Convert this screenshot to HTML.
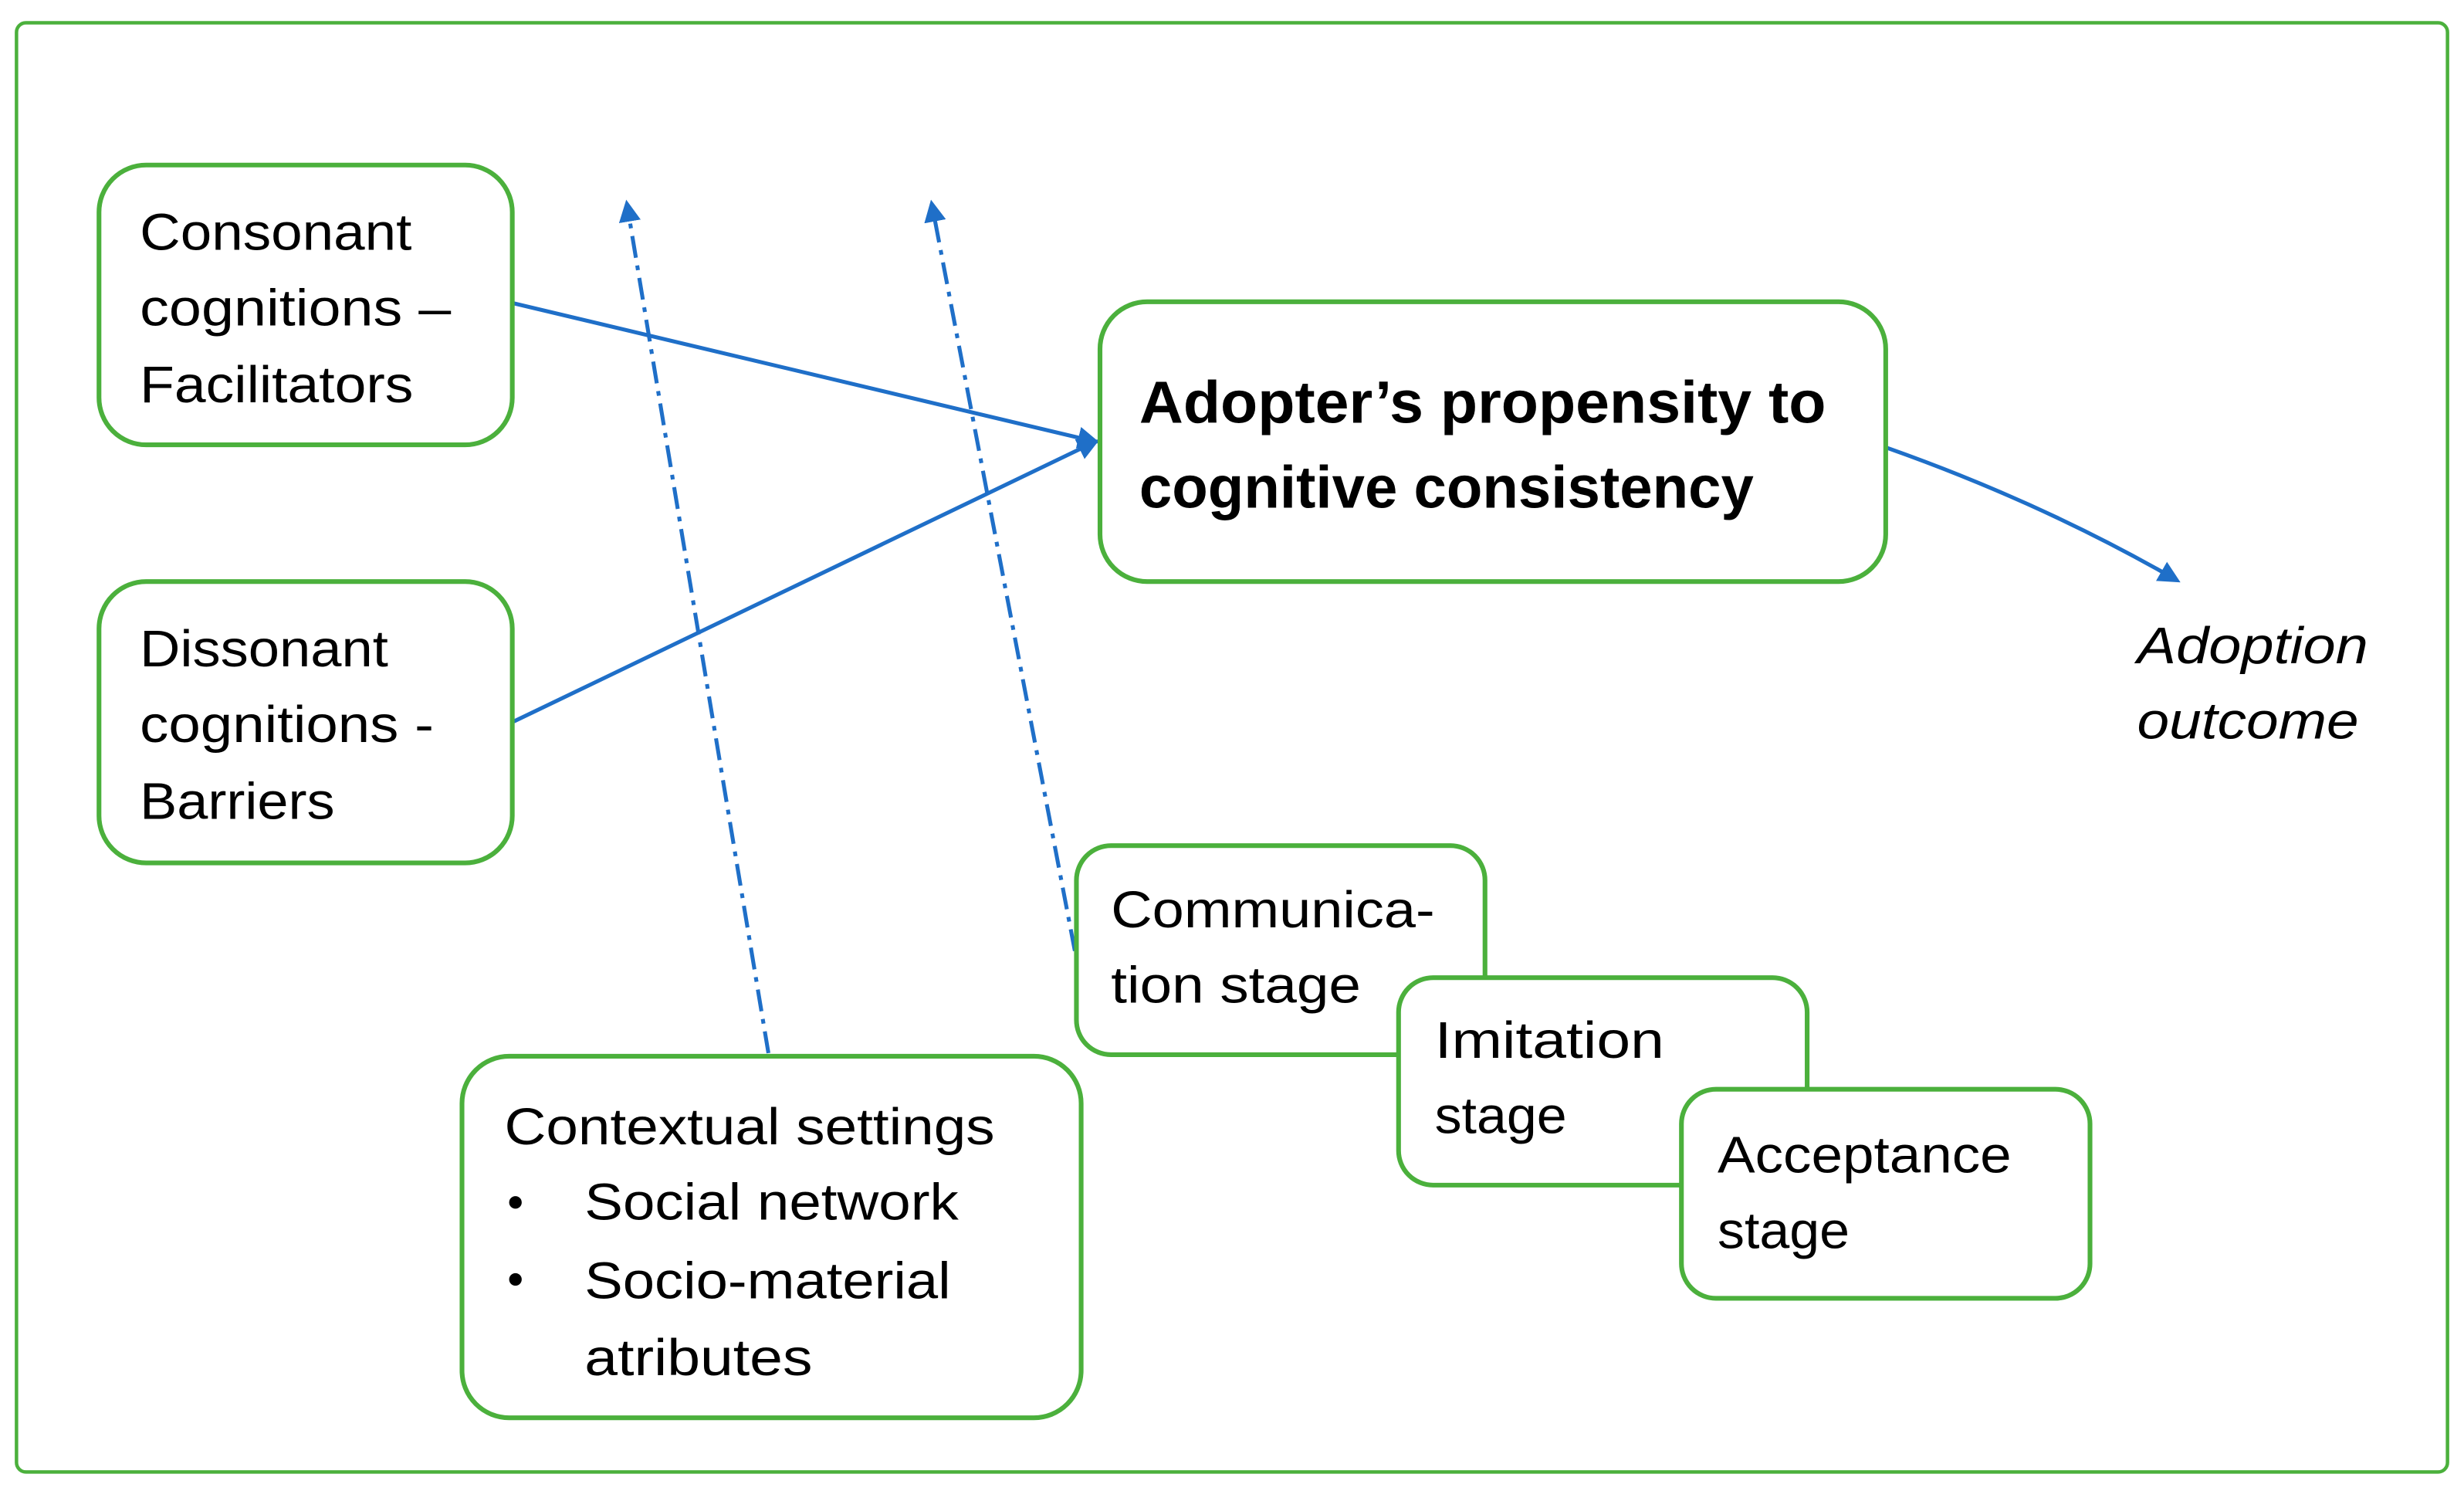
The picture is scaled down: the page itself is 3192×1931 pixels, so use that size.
<!DOCTYPE html>
<html><head><meta charset="utf-8"><style>
html,body{margin:0;padding:0;background:#fff;}
svg{display:block;}
text{font-family:"Liberation Sans",sans-serif;fill:#000;}
</style></head><body>
<svg width="3192" height="1931" viewBox="0 0 1568 948.6" preserveAspectRatio="none" xmlns="http://www.w3.org/2000/svg">
<defs>
<marker id="ah" markerWidth="10" markerHeight="10" refX="8" refY="5" orient="auto" markerUnits="userSpaceOnUse">
<path d="M0,0 L10,5 L0,10 Z" fill="#1f6fc8"/></marker>
<marker id="ah2" markerWidth="14" markerHeight="14" refX="11" refY="7" orient="auto" markerUnits="userSpaceOnUse">
<path d="M0,0 L14,7 L0,14 Z" fill="#1f6fc8"/></marker>
</defs>
<g fill="none" stroke="#4bb03c">
<rect x="10.5" y="14.5" width="1547" height="922" rx="6" stroke-width="2.2"/>
</g>
<!-- connectors -->
<g stroke="#1f6fc8" stroke-width="2.5" fill="none">
<line x1="327" y1="193" x2="697" y2="281" marker-end="url(#ah2)"/>
<line x1="327" y1="459" x2="697" y2="281" marker-end="url(#ah2)"/>
<line x1="489" y1="670" x2="399" y2="130" stroke-dasharray="14,5,3,5" marker-end="url(#ah2)"/>
<line x1="684" y1="605" x2="593" y2="130" stroke-dasharray="14,5,3,5" marker-end="url(#ah2)"/>
<path d="M1201,285 Q1300,320 1385,369" marker-end="url(#ah2)"/>
</g>
<g fill="#fff" stroke="#4bb03c" stroke-width="3">
<rect x="63" y="105" width="263" height="178" rx="30"/>
<rect x="63" y="370" width="263" height="179" rx="30"/>
<rect x="700" y="192" width="500" height="178" rx="30"/>
<rect x="294" y="672" width="394" height="230" rx="30"/>
<rect x="685" y="538" width="260" height="133" rx="22"/>
<rect x="890" y="622" width="260" height="132" rx="22"/>
<rect x="1070" y="693" width="260" height="133" rx="22"/>
</g>
<g font-size="33">
<text x="89" y="159" textLength="173" lengthAdjust="spacingAndGlyphs">Consonant</text>
<text x="89" y="207" textLength="198" lengthAdjust="spacingAndGlyphs">cognitions –</text>
<text x="89" y="256" textLength="174" lengthAdjust="spacingAndGlyphs">Facilitators</text>
<text x="89" y="424" textLength="158" lengthAdjust="spacingAndGlyphs">Dissonant</text>
<text x="89" y="472" textLength="187" lengthAdjust="spacingAndGlyphs">cognitions -</text>
<text x="89" y="521" textLength="124" lengthAdjust="spacingAndGlyphs">Barriers</text>
<text x="707" y="590" textLength="206" lengthAdjust="spacingAndGlyphs">Communica-</text>
<text x="707" y="638" textLength="159" lengthAdjust="spacingAndGlyphs">tion stage</text>
<text x="913" y="673" textLength="146" lengthAdjust="spacingAndGlyphs">Imitation</text>
<text x="913" y="721" textLength="84" lengthAdjust="spacingAndGlyphs">stage</text>
<text x="1093" y="746" textLength="187" lengthAdjust="spacingAndGlyphs">Acceptance</text>
<text x="1093" y="794" textLength="84" lengthAdjust="spacingAndGlyphs">stage</text>
<text x="321" y="728" textLength="312" lengthAdjust="spacingAndGlyphs">Contextual settings</text>
<text x="372" y="776" textLength="238" lengthAdjust="spacingAndGlyphs">Social network</text>
<text x="372" y="826" textLength="233" lengthAdjust="spacingAndGlyphs">Socio-material</text>
<text x="372" y="875" textLength="145" lengthAdjust="spacingAndGlyphs">atributes</text>
<text x="1360" y="422" font-style="italic" textLength="147" lengthAdjust="spacingAndGlyphs">Adoption</text>
<text x="1360" y="470" font-style="italic" textLength="141" lengthAdjust="spacingAndGlyphs">outcome</text>
</g>
<circle cx="328" cy="765" r="4" fill="#000"/>
<circle cx="328" cy="814" r="4" fill="#000"/>
<g font-size="38" font-weight="bold">
<text x="725" y="269" textLength="437" lengthAdjust="spacingAndGlyphs">Adopter’s propensity to</text>
<text x="725" y="323" textLength="391" lengthAdjust="spacingAndGlyphs">cognitive consistency</text>
</g>
</svg>
</body></html>
